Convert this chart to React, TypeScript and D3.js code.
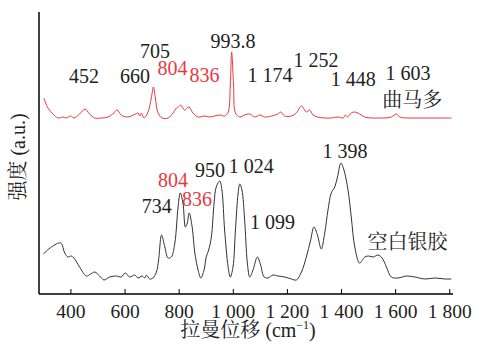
import React from "react";
import * as d3 from "d3";

// tramadol (red) spectrum: Raman shift (cm-1) and intensity (a.u.)
const tramadolShift = [300, 315, 334, 352, 371, 382, 399, 411, 432, 452, 469, 488, 512, 537, 555, 570, 586, 605, 623, 638, 648, 654, 660, 670, 685, 697, 705, 712, 722, 737, 759, 777, 790, 796, 806, 820, 836, 851, 870, 894, 913, 931, 950, 968, 981, 989, 994, 1001, 1008, 1024, 1042, 1061, 1079, 1098, 1116, 1141, 1165, 1175, 1190, 1215, 1233, 1252, 1270, 1282, 1295, 1311, 1338, 1362, 1387, 1406, 1414, 1422, 1436, 1448, 1467, 1486, 1510, 1535, 1560, 1584, 1603, 1615, 1646, 1683, 1720, 1757, 1794, 1806];
const tramadolInt = [196, 186, 180, 176, 177, 176, 178, 176, 180, 185, 180, 176, 176, 177, 180, 184, 179, 177, 178, 180, 181, 178, 181, 176, 182, 196, 207, 196, 181, 176, 176, 181, 186, 187, 189, 184, 187, 181, 177, 178, 177, 178, 179, 178, 182, 209, 242, 209, 181, 177, 179, 180, 177, 179, 177, 178, 180, 182, 178, 178, 181, 188, 182, 184, 179, 177, 176, 176, 177, 176, 179, 177, 181, 182, 180, 177, 176, 176, 176, 177, 180, 177, 176, 176, 176, 176, 176, 176];

// blank silver colloid (black) spectrum
const blankShift = [298, 328, 362, 377, 389, 401, 411, 432, 457, 473, 488, 506, 522, 543, 568, 586, 601, 617, 636, 648, 663, 673, 679, 691, 703, 716, 724, 735, 747, 759, 771, 784, 796, 804, 814, 823, 830, 837, 848, 858, 870, 880, 892, 900, 909, 919, 929, 937, 950, 958, 968, 981, 989, 999, 1008, 1018, 1024, 1032, 1042, 1052, 1061, 1073, 1089, 1101, 1114, 1128, 1147, 1165, 1190, 1215, 1233, 1252, 1270, 1286, 1298, 1311, 1325, 1338, 1350, 1362, 1375, 1385, 1398, 1409, 1424, 1436, 1449, 1467, 1486, 1501, 1517, 1535, 1550, 1566, 1584, 1609, 1640, 1671, 1708, 1745, 1782, 1806];
const blankInt = [40, 47, 51, 41, 37, 38, 36, 27, 18, 20, 22, 18, 14, 17, 18, 17, 21, 17, 19, 16, 18, 16, 19, 15, 16, 22, 34, 59, 47, 36, 37, 51, 87, 101, 91, 67, 71, 81, 67, 41, 24, 16, 24, 37, 44, 57, 91, 107, 113, 104, 64, 27, 17, 27, 64, 101, 110, 104, 74, 31, 17, 24, 37, 29, 17, 16, 19, 18, 17, 15, 14, 22, 37, 54, 67, 59, 45, 61, 84, 101, 107, 117, 131, 124, 104, 77, 47, 31, 37, 38, 37, 39, 36, 27, 17, 16, 18, 17, 15, 16, 15, 15];

// peak annotations: text, x position (cm-1), height (a.u.), red?
const topLabels = ["452", "660", "705", "804", "836", "993.8", "1 174", "1 252", "1 448", "1 603", "曲马多"];
const topLabelX = [448, 637, 711, 775, 894, 999, 1136, 1306, 1443, 1646, 1661];
const topLabelY = [211, 211, 236, 219, 212, 246, 212, 227, 208, 214, 187];
const topLabelRed = [false, false, false, true, true, false, false, false, false, false, false];

const bottomLabels = ["734", "804", "836", "950", "1 024", "1 099", "1 398", "空白银胶"];
const bottomLabelX = [717, 777, 866, 914, 1066, 1145, 1413, 1644];
const bottomLabelY = [81, 107, 88, 117, 121, 65, 136, 45];
const bottomLabelRed = [false, true, true, false, false, false, false, false];

const xTicks = [400, 600, 800, 1000, 1200, 1400, 1600, 1800];

const W = 477;
const H = 345;
const RED = "#e8393f";
const LATIN = "Liberation Serif";
const CJK = "Noto Serif CJK SC";

const fmt = (d: number) =>
  d >= 1000 ? `${Math.floor(d / 1000)} ${String(d % 1000).padStart(3, "0")}` : String(d);

const isCjk = (s: string) => /[\u4e00-\u9fff]/.test(s);

export default function App() {
  const x = d3.scaleLinear().domain([282, 1812]).range([39, 453]);
  const y = d3.scaleLinear().domain([0, 282]).range([294, 12]);
  const axisY = y(0);

  const line = d3
    .line<[number, number]>()
    .x((d) => x(d[0]))
    .y((d) => y(d[1]))
    .curve(d3.curveCatmullRom.alpha(0.5));

  const redPath = line(tramadolShift.map((s, i) => [s, tramadolInt[i]]));
  const blackPath = line(blankShift.map((s, i) => [s, blankInt[i]]));

  const labels = [
    ...topLabels.map((t, i) => ({ t, x: topLabelX[i], y: topLabelY[i], red: topLabelRed[i] })),
    ...bottomLabels.map((t, i) => ({ t, x: bottomLabelX[i], y: bottomLabelY[i], red: bottomLabelRed[i] })),
  ];

  return (
    <div style={{ position: "absolute", left: 0, top: 0 }}>
      <svg width={W} height={H} style={{ display: "block" }}>
        <rect width={W} height={H} fill="#fff" />
        <path d={redPath ?? ""} fill="none" stroke={RED} strokeWidth={1} />
        <path d={blackPath ?? ""} fill="none" stroke="#333" strokeWidth={1} />

        {/* axes */}
        <line x1={39} x2={39} y1={12} y2={axisY} stroke="#000" strokeWidth={1.5} />
        <line x1={39} x2={453} y1={axisY} y2={axisY} stroke="#000" strokeWidth={1.5} />
        {xTicks.map((t) => (
          <g key={t}>
            <line x1={x(t)} x2={x(t)} y1={axisY} y2={axisY - 5} stroke="#000" strokeWidth={1} />
            <text x={x(t)} y={318} textAnchor="middle" fontSize={19.5} fontFamily={LATIN} fill="#222">
              {fmt(t)}
            </text>
          </g>
        ))}

        {labels.map((l, i) => (
          <text
            key={i}
            x={x(l.x)}
            y={y(l.y)}
            textAnchor="middle"
            fontSize={20}
            fontFamily={isCjk(l.t) ? CJK : LATIN}
            fill={l.red ? RED : "#222"}
          >
            {l.t}
          </text>
        ))}

        <text x={248} y={337} textAnchor="middle" fontSize={20} fill="#222">
          <tspan fontFamily={CJK}>拉曼位移</tspan>
          <tspan fontFamily={LATIN}> (cm</tspan>
          <tspan fontFamily={LATIN} fontSize={12} dy={-8}>−1</tspan>
          <tspan fontFamily={LATIN} dy={8}>)</tspan>
        </text>
        <text transform="translate(25,157) rotate(-90)" textAnchor="middle" fontSize={20} fill="#222">
          <tspan fontFamily={CJK}>强度</tspan>
          <tspan fontFamily={LATIN}> (a.u.)</tspan>
        </text>
      </svg>
    </div>
  );
}
